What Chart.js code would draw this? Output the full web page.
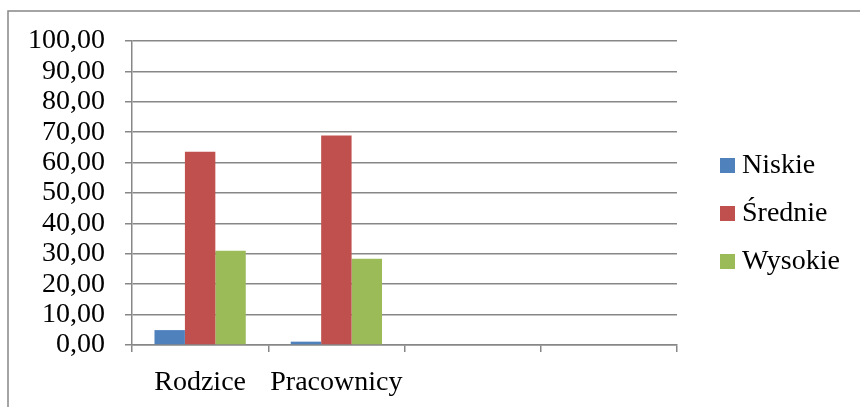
<!DOCTYPE html>
<html>
<head>
<meta charset="utf-8">
<script src="https://cdn.jsdelivr.net/npm/chart.js@4"></script>
<style>
  body { margin: 0; background: #fff; }
  #wrap { width: 860px; height: 407px; }
</style>
</head>
<body>
<div id="wrap"><canvas id="chart"></canvas></div>
<script>
// data
const categories = ['Rodzice', 'Pracownicy', '', ''];
const seriesNames = ['Niskie', 'Średnie', 'Wysokie'];
const niskie = [4.9, 1.1];
const srednie = [63.6, 68.9];
const wysokie = [31.0, 28.4];
const yTickLabels = ['0,00', '10,00', '20,00', '30,00', '40,00', '50,00',
                     '60,00', '70,00', '80,00', '90,00', '100,00'];

const colors = ['#4F81BD', '#C0504D', '#9BBB59'];
const font = { family: "'Liberation Serif', 'Times New Roman', serif", size: 28 };
const gridGray = '#878787';

// outer frame (only top and left edge show in the picture)
const framePlugin = {
    id: 'frame',
    beforeDraw(chart) {
        const ctx = chart.ctx;
        ctx.save();
        ctx.fillStyle = '#fff';
        ctx.fillRect(0, 0, chart.width, chart.height);
        ctx.strokeStyle = gridGray;
        ctx.lineWidth = 1.5;
        ctx.beginPath();
        ctx.moveTo(8, chart.height);
        ctx.lineTo(8, 11);
        ctx.lineTo(chart.width, 11);
        ctx.stroke();
        ctx.restore();
    }
};

// legend on the right, drawn from the datasets
const legendPlugin = {
    id: 'sideLegend',
    afterDraw(chart) {
        const ctx = chart.ctx;
        ctx.save();
        ctx.font = font.size + 'px ' + font.family;
        ctx.textBaseline = 'middle';
        chart.data.datasets.forEach((ds, i) => {
            const cy = 165 + i * 48;
            ctx.fillStyle = ds.backgroundColor;
            ctx.fillRect(720, cy - 7, 15, 15);
            ctx.fillStyle = '#000';
            ctx.fillText(ds.label, 742, cy + 1);
        });
        ctx.restore();
    }
};

new Chart(document.getElementById('chart'), {
    type: 'bar',
    data: {
        labels: categories,
        datasets: [
            { label: seriesNames[0], data: niskie, backgroundColor: colors[0] },
            { label: seriesNames[1], data: srednie, backgroundColor: colors[1] },
            { label: seriesNames[2], data: wysokie, backgroundColor: colors[2] }
        ]
    },
    options: {
        responsive: true,
        maintainAspectRatio: false,
        animation: false,
        categoryPercentage: 0.67,
        barPercentage: 1.0,
        layout: { padding: { left: 0, right: 183, top: 41, bottom: 0 } },
        plugins: {
            legend: { display: false },
            tooltip: { enabled: false }
        },
        scales: {
            x: {
                afterFit(scale) { scale.height = 62; },
                grid: {
                    offset: true,
                    drawOnChartArea: false,
                    drawTicks: true,
                    tickLength: 7,
                    color: gridGray,
                    lineWidth: 1.5
                },
                border: { color: gridGray, width: 1.5 },
                ticks: { font: font, color: '#000', padding: 14, maxRotation: 0, autoSkip: false }
            },
            y: {
                min: 0,
                max: 100,
                afterFit(scale) { scale.width = 132; },
                grid: {
                    color: gridGray,
                    lineWidth: 1.5,
                    tickLength: 7
                },
                border: { color: gridGray, width: 1.5 },
                ticks: {
                    stepSize: 10,
                    autoSkip: false,
                    font: font,
                    color: '#000',
                    padding: 20,
                    callback: (v, i) => yTickLabels[i]
                }
            }
        }
    },
    plugins: [framePlugin, legendPlugin]
});
</script>
</body>
</html>
